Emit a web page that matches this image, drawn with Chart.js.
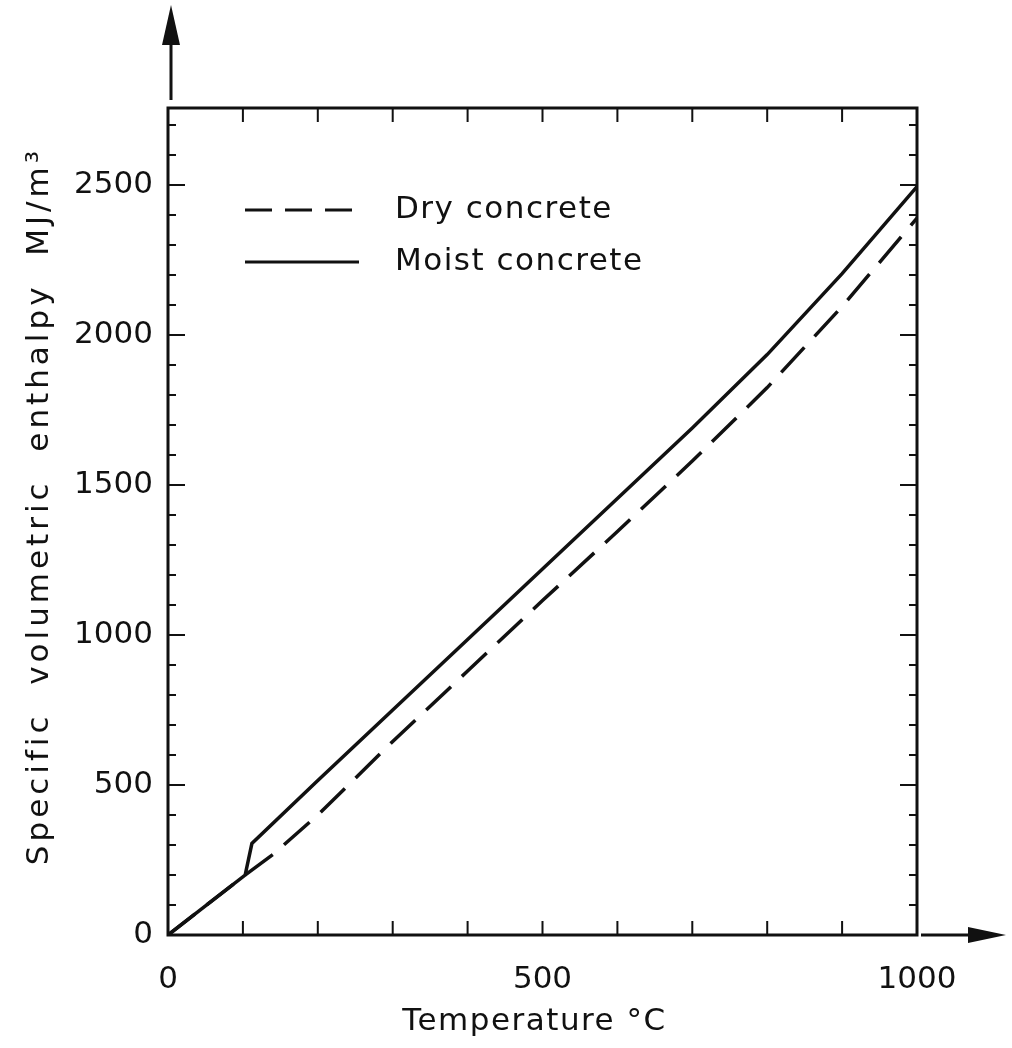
<!DOCTYPE html>
<html>
<head>
<meta charset="utf-8">
<title>Specific volumetric enthalpy of concrete</title>
<script src="https://cdn.jsdelivr.net/npm/chart.js@4/dist/chart.umd.min.js"></script>
<style>
    html, body { margin: 0; padding: 0; background: #fff; }
    #wrap { width: 1012px; height: 1048px; }
</style>
</head>
<body>
<div id="wrap"><canvas id="enthalpyChart" width="1012" height="1048"></canvas></div>
<script>
// values
const tempDry = [0, 103, 140, 200, 300, 400, 500, 600, 700, 800, 900, 1000];
const enthalpyDry = [0, 200, 268, 400, 645, 880, 1115, 1345, 1580, 1825, 2095, 2390];

const tempMoist = [0, 103, 112, 200, 300, 400, 500, 600, 700, 800, 900, 1000];
const enthalpyMoist = [0, 200, 305, 515, 750, 985, 1220, 1455, 1690, 1935, 2205, 2495];

const xTickLabels = [0, 500, 1000];
const yTickLabels = [0, 500, 1000, 1500, 2000, 2500];

const seriesNames = ['Dry concrete', 'Moist concrete'];
const xTitle = 'Temperature \u00B0C';
const yTitle = 'Specific  volumetric  enthalpy  MJ/m\u00B3';

const INK = '#111';
const FONT = '"DejaVu Sans", sans-serif';

function toPoints(xs, ys) {
    return xs.map(function (x, i) { return { x: x, y: ys[i] }; });
}

// box, inward ticks, arrows, titles and legend like the printed figure
const framePlugin = {
    id: 'frame',
    afterDraw: function (chart) {
        const ctx = chart.ctx;
        const a = chart.chartArea;
        const xs = chart.scales.x;
        const ys = chart.scales.y;

        ctx.save();
        ctx.strokeStyle = INK;
        ctx.fillStyle = INK;
        ctx.lineWidth = 3;
        ctx.lineCap = 'butt';
        ctx.strokeRect(a.left, a.top, a.right - a.left, a.bottom - a.top);

        // ticks every 100 on all four sides
        ctx.lineWidth = 2;
        ctx.beginPath();
        for (let v = 100; v < 1000; v += 100) {
            const px = xs.getPixelForValue(v);
            ctx.moveTo(px, a.bottom); ctx.lineTo(px, a.bottom - 14);
            ctx.moveTo(px, a.top); ctx.lineTo(px, a.top + 14);
        }
        for (let v = 100; v <= 2700; v += 100) {
            const py = ys.getPixelForValue(v);
            const len = (v % 500 === 0) ? 17 : 8;
            ctx.moveTo(a.left, py); ctx.lineTo(a.left + len, py);
            ctx.moveTo(a.right, py); ctx.lineTo(a.right - len, py);
        }
        ctx.stroke();

        // axis arrows
        const ax = xs.getPixelForValue(0) + 3;
        ctx.lineWidth = 3;
        ctx.beginPath();
        ctx.moveTo(ax, a.top - 8); ctx.lineTo(ax, 40);
        ctx.moveTo(a.right + 4, a.bottom); ctx.lineTo(970, a.bottom);
        ctx.stroke();
        ctx.beginPath();
        ctx.moveTo(ax, 5); ctx.lineTo(ax - 9, 45); ctx.lineTo(ax + 9, 45); ctx.closePath();
        ctx.fill();
        ctx.beginPath();
        ctx.moveTo(1006, a.bottom); ctx.lineTo(968, a.bottom - 8); ctx.lineTo(968, a.bottom + 8); ctx.closePath();
        ctx.fill();

        // axis titles
        ctx.font = '31px ' + FONT;
        ctx.textBaseline = 'middle';
        ctx.textAlign = 'center';
        ctx.letterSpacing = '1.5px';
        ctx.fillText(xTitle, (a.left + a.right) / 2 - 8, 1022);

        ctx.save();
        ctx.translate(40, 506);
        ctx.rotate(-Math.PI / 2);
        ctx.letterSpacing = '4px';
        ctx.fillText(yTitle, 0, 0);
        ctx.restore();

        // legend
        ctx.letterSpacing = '1.5px';
        ctx.textAlign = 'left';
        const rows = [210, 262];
        chart.data.datasets.forEach(function (ds, i) {
            ctx.lineWidth = 3;
            ctx.setLineDash(i === 0 ? [27, 13] : []);
            ctx.beginPath();
            ctx.moveTo(245, rows[i]); ctx.lineTo(359, rows[i]);
            ctx.stroke();
            ctx.setLineDash([]);
            ctx.fillText(ds.label, 395, rows[i]);
        });
        ctx.restore();
    }
};

function plainLabel(value) {
    return String(value);
}

document.addEventListener('DOMContentLoaded', function () {
    const ctx = document.getElementById('enthalpyChart');

    new Chart(ctx, {
        type: 'line',
        data: {
            datasets: [{
                label: seriesNames[0],
                data: toPoints(tempDry, enthalpyDry),
                borderColor: INK,
                borderWidth: 3.5,
                borderDash: [34, 15],
                pointRadius: 0,
                tension: 0,
                fill: false
            }, {
                label: seriesNames[1],
                data: toPoints(tempMoist, enthalpyMoist),
                borderColor: INK,
                borderWidth: 3.5,
                pointRadius: 0,
                tension: 0,
                fill: false
            }]
        },
        options: {
            responsive: false,
            animation: false,
            layout: { padding: { top: 108, right: 95, left: 0, bottom: 0 } },
            plugins: {
                legend: { display: false },
                tooltip: { enabled: false }
            },
            scales: {
                x: {
                    type: 'linear',
                    min: 0,
                    max: 1000,
                    afterBuildTicks: function (scale) {
                        scale.ticks = xTickLabels.map(function (v) { return { value: v }; });
                    },
                    afterFit: function (scale) { scale.height = 113; },
                    grid: { display: false },
                    border: { display: false },
                    ticks: { color: INK, padding: 18, maxRotation: 0, callback: plainLabel, font: { family: FONT, size: 31 } }
                },
                y: {
                    type: 'linear',
                    min: 0,
                    max: 2757,
                    afterBuildTicks: function (scale) {
                        scale.ticks = yTickLabels.map(function (v) { return { value: v }; });
                    },
                    afterFit: function (scale) { scale.width = 168; },
                    grid: { display: false },
                    border: { display: false },
                    ticks: { color: INK, padding: 7, callback: plainLabel, font: { family: FONT, size: 31 } }
                }
            }
        },
        plugins: [framePlugin]
    });
});
</script>
</body>
</html>
